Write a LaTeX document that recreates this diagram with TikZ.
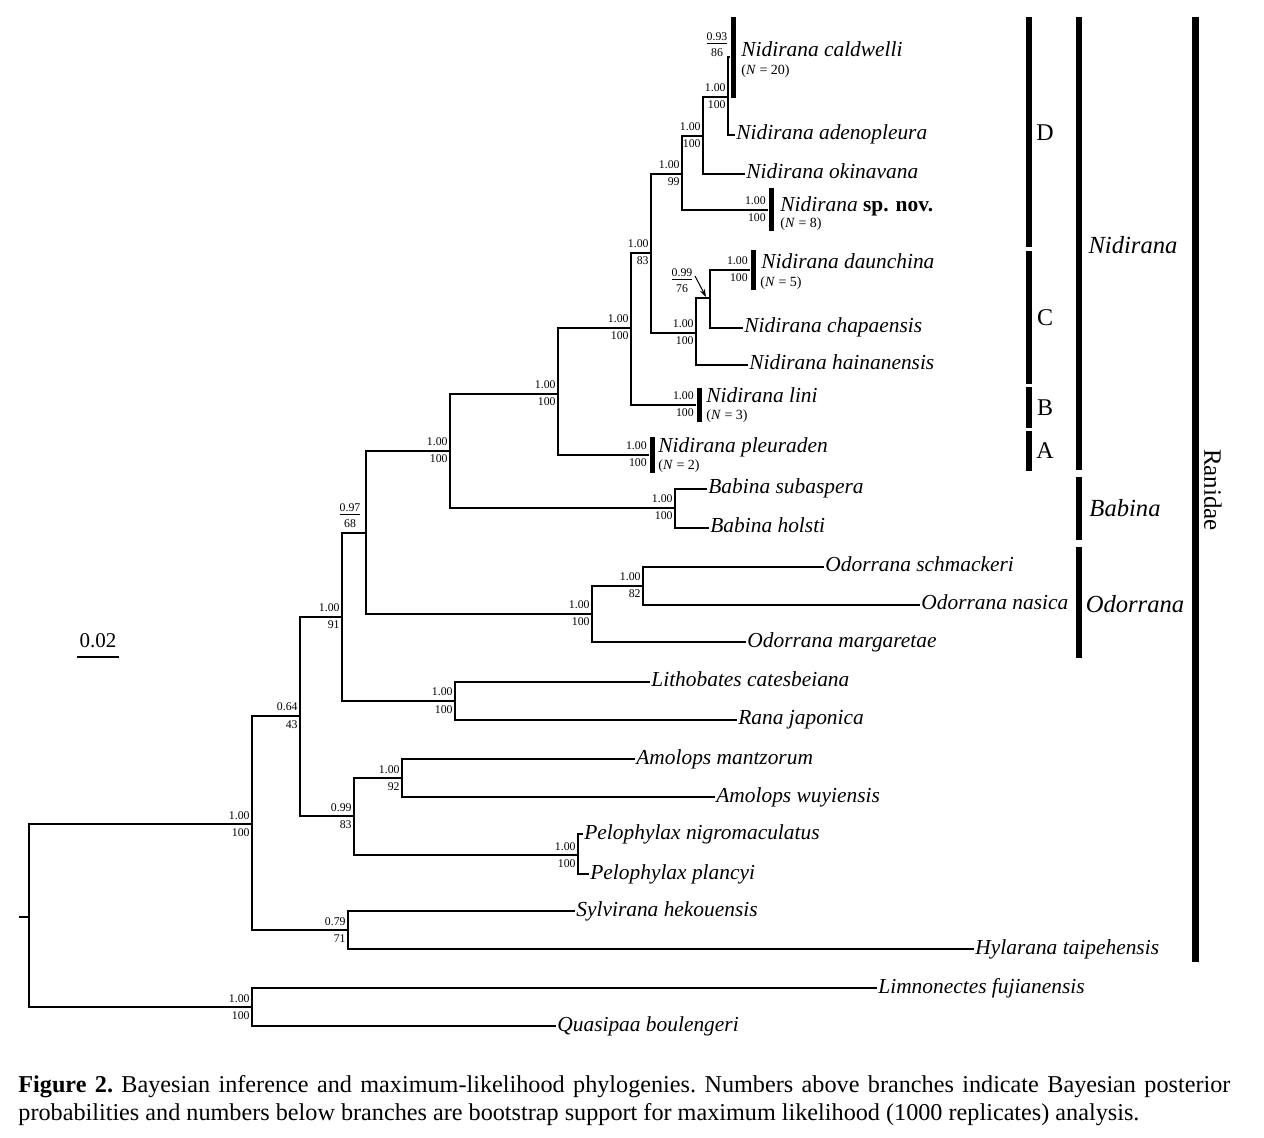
\documentclass[tikz,border=0pt]{standalone}
\usepackage{fontspec}
\setmainfont{Liberation Serif}
\usetikzlibrary{arrows.meta}
\newcommand\mysl[4]{%
  \node[sl] (#1u) at ([shift={(-2,-9)}]#2) {#3};
  \node[sl] (#1d) at ([shift={(-2,8)}]#2) {#4};}
\begin{document}
\begin{tikzpicture}[x=0.5pt,y=-0.5pt,
  br/.style={line width=1pt},
  tax/.style={anchor=west, inner xsep=0.5pt, inner ysep=0pt, font=\fontsize{10.7}{12}\selectfont\itshape, text height=7.2pt, text depth=2.2pt},
  nn/.style={anchor=west, inner sep=0pt, font=\fontsize{7}{8}\selectfont, text height=5pt, text depth=1.7pt},
  sl/.style={anchor=east, inner sep=0pt, font=\fontsize{5.9}{6}\selectfont, text height=4pt, text depth=0pt},
  frac/.style={inner sep=0pt, align=center, font=\fontsize{5.9}{8}\selectfont},
  tbar/.style={rectangle, fill=black, draw=none, inner sep=0pt, minimum width=2.5pt},
  gb/.style={line width=3pt},
  glab/.style={font=\fontsize{12}{14}\selectfont, inner sep=0pt},
]
\useasboundingbox (0,0) rectangle (1264,1138);

% internal nodes
\coordinate (R) at (29,917);
\coordinate (A1) at (252,824);
\coordinate (B1) at (252,1007);
\coordinate (A2) at (300,716);
\coordinate (A3) at (348,930);
\coordinate (A4) at (342,617);
\coordinate (A5) at (354,816);
\coordinate (A6) at (366,533);
\coordinate (A7) at (455,701);
\coordinate (A8) at (450,451);
\coordinate (A9) at (592,614);
\coordinate (A10) at (643,586);
\coordinate (A11) at (558,394);
\coordinate (A12) at (675,508);
\coordinate (A13) at (631,328);
\coordinate (A14) at (651,253);
\coordinate (A15) at (682,174);
\coordinate (A16) at (703,136);
\coordinate (A17) at (728,97);
\coordinate (A18) at (696,333);
\coordinate (A19) at (710,298);
\coordinate (A20) at (402,778);
\coordinate (A21) at (578,855);
\coordinate (RT) at (19,917);

% bars with N
\node[tbar, minimum height=40.5pt] (bcal) at (733,57.5) {};
\node[tbar, minimum height=21.5pt] (bsp) at (771,210) {};
\node[tbar, minimum height=20pt] (bda) at (753,270) {};
\node[tbar, minimum height=17pt] (bli) at (699,405) {};
\node[tbar, minimum height=18pt] (bpl) at (652,455) {};

\node[tax] (tcal) at (740,52) {Nidirana caldwelli};
\node[nn] (ncal) at (741,71) {(\textit{N} = 20)};
\node[tax] (tsp) at (779,207) {Nidirana \textbf{\upshape sp. nov.}};
\node[nn] (nsp) at (780,224) {(\textit{N} = 8)};
\node[tax] (tda) at (760,264) {Nidirana daunchina};
\node[nn] (nda) at (760,283) {(\textit{N} = 5)};
\node[tax] (tli) at (705,398) {Nidirana lini};
\node[nn] (nli) at (706,416) {(\textit{N} = 3)};
\node[tax] (tpl) at (657,448) {Nidirana pleuraden};
\node[nn] (npl) at (658,466) {(\textit{N} = 2)};

% other taxa
\node[tax] (tad) at (735,135) {Nidirana adenopleura};
\node[tax] (tok) at (745,174) {Nidirana okinavana};
\node[tax] (tch) at (743,328) {Nidirana chapaensis};
\node[tax] (tha) at (748,365) {Nidirana hainanensis};
\node[tax] (tbs) at (707,489) {Babina subaspera};
\node[tax] (tbh) at (709,528) {Babina holsti};
\node[tax] (tos) at (824,567) {Odorrana schmackeri};
\node[tax] (ton) at (920,605) {Odorrana nasica};
\node[tax] (tom) at (746,642) {Odorrana margaretae};
\node[tax] (tlc) at (650,682) {Lithobates catesbeiana};
\node[tax] (trj) at (737,720) {Rana japonica};
\node[tax] (tam) at (635,759) {Amolops mantzorum};
\node[tax] (taw) at (715,797) {Amolops wuyiensis};
\node[tax] (tpn) at (583,834) {Pelophylax nigromaculatus};
\node[tax] (tpp) at (589,874) {Pelophylax plancyi};
\node[tax] (tsh) at (575,911) {Sylvirana hekouensis};
\node[tax] (tht) at (974,949) {Hylarana taipehensis};
\node[tax] (tlf) at (877,988) {Limnonectes fujianensis};
\node[tax] (tqb) at (556,1026) {Quasipaa boulengeri};

% branches
\draw[br] (RT) -- (R);
\draw[br] (R) |- (A1); \draw[br] (R) |- (B1);
\draw[br] (A1) |- (A2); \draw[br] (A1) |- (A3);
\draw[br] (A2) |- (A4); \draw[br] (A2) |- (A5);
\draw[br] (A4) |- (A6); \draw[br] (A4) |- (A7);
\draw[br] (A6) |- (A8); \draw[br] (A6) |- (A9);
\draw[br] (A8) |- (A11); \draw[br] (A8) |- (A12);
\draw[br] (A11) |- (A13); \draw[br] (A11) |- (bpl.west);
\draw[br] (A13) |- (A14); \draw[br] (A13) |- (bli.west);
\draw[br] (A14) |- (A15); \draw[br] (A14) |- (A18);
\draw[br] (A15) |- (A16); \draw[br] (A15) |- (bsp.west);
\draw[br] (A16) |- (A17); \draw[br] (A16) |- (tok.west);
\draw[br] (A17) |- (bcal.west); \draw[br] (A17) |- (tad.west);
\draw[br] (A18) |- (A19); \draw[br] (A18) |- (tha.west);
\draw[br] (A19) |- (bda.west); \draw[br] (A19) |- (tch.west);
\draw[br] (A12) |- (tbs.west); \draw[br] (A12) |- (tbh.west);
\draw[br] (A9) |- (A10); \draw[br] (A9) |- (tom.west);
\draw[br] (A10) |- (tos.west); \draw[br] (A10) |- (ton.west);
\draw[br] (A7) |- (tlc.west); \draw[br] (A7) |- (trj.west);
\draw[br] (A5) |- (A20); \draw[br] (A5) |- (A21);
\draw[br] (A20) |- (tam.west); \draw[br] (A20) |- (taw.west);
\draw[br] (A21) |- (tpn.west); \draw[br] (A21) |- (tpp.west);
\draw[br] (A3) |- (tsh.west); \draw[br] (A3) |- (tht.west);
\draw[br] (B1) |- (tlf.west); \draw[br] (B1) |- (tqb.west);

% support values
\mysl{s1}{A1}{1.00}{100}
\mysl{s2}{B1}{1.00}{100}
\mysl{s3}{A2}{0.64}{43}
\mysl{s4}{A3}{0.79}{71}
\mysl{s5}{A4}{1.00}{91}
\mysl{s6}{A5}{0.99}{83}
\mysl{s7}{A7}{1.00}{100}
\mysl{s8}{A8}{1.00}{100}
\mysl{s9}{A9}{1.00}{100}
\mysl{s10}{A10}{1.00}{82}
\mysl{s11}{A11}{1.00}{100}
\mysl{s12}{A12}{1.00}{100}
\mysl{s13}{A13}{1.00}{100}
\mysl{s14}{A14}{1.00}{83}
\mysl{s15}{A15}{1.00}{99}
\mysl{s16}{A16}{1.00}{100}
\mysl{s17}{A17}{1.00}{100}
\mysl{s18}{A18}{1.00}{100}
\mysl{s20}{A20}{1.00}{92}
\mysl{s21}{A21}{1.00}{100}
\mysl{b1}{bsp.west}{1.00}{100}
\mysl{b2}{bda.west}{1.00}{100}
\mysl{b3}{bli.west}{1.00}{100}
\mysl{b4}{bpl.west}{1.00}{100}

\node[frac] (fcal) at (717,45) {\underline{0.93}\\86};
\node[frac] (f97) at (350,516) {\underline{0.97}\\68};
\node[frac] (f99) at (682,281) {\underline{0.99}\\76};
\coordinate (arrs) at (695,276);
\coordinate (arrt) at (706,297);
\draw[line width=0.5pt, -{Stealth[length=4pt,width=2.6pt]}] (arrs) -- (arrt);

% scale bar
\node[font=\fontsize{10.5}{12}\selectfont, inner sep=0pt] (scl) at (98,641) {0.02};
\coordinate (sb1) at (77,657);
\coordinate (sb2) at (119,657);
\draw[line width=1.2pt] (sb1) -- (sb2);

% group bars
\draw[gb] (1029,17) -- (1029,247);
\draw[gb] (1029,251) -- (1029,384);
\draw[gb] (1029,387) -- (1029,428);
\draw[gb] (1029,431) -- (1029,471);
\draw[gb] (1079,17) -- (1079,470);
\draw[gb] (1079,477) -- (1079,540);
\draw[gb] (1079,547) -- (1079,658);
\draw[line width=3.5pt] (1195,17) -- (1195,962);
\node[glab] (gD) at (1045,133) {D};
\node[glab] (gC) at (1045,318) {C};
\node[glab] (gB) at (1045,408) {B};
\node[glab] (gA) at (1045,451) {A};
\node[glab, font=\fontsize{12.3}{14}\selectfont\itshape] (gN) at (1133,245) {Nidirana};
\node[glab, font=\fontsize{12.3}{14}\selectfont\itshape] (gBa) at (1125,508) {Babina};
\node[glab, font=\fontsize{12.3}{14}\selectfont\itshape] (gO) at (1135,604) {Odorrana};
\node[glab, font=\fontsize{12.5}{14}\selectfont, rotate=-90] (gR) at (1213,490) {Ranidae};

% caption
\node[anchor=base west, inner sep=0pt, font=\fontsize{12.1}{14}\selectfont\frenchspacing] (cap1) at (18,1092)
  {\makebox[606pt][s]{\textbf{Figure 2.} Bayesian inference and maximum-likelihood phylogenies. Numbers above branches indicate Bayesian posterior}};
\node[anchor=base west, inner sep=0pt, font=\fontsize{12.1}{14}\selectfont\frenchspacing] (cap2) at (18,1120)
  {probabilities and numbers below branches are bootstrap support for maximum likelihood (1000 replicates) analysis.};
\end{tikzpicture}
\end{document}
